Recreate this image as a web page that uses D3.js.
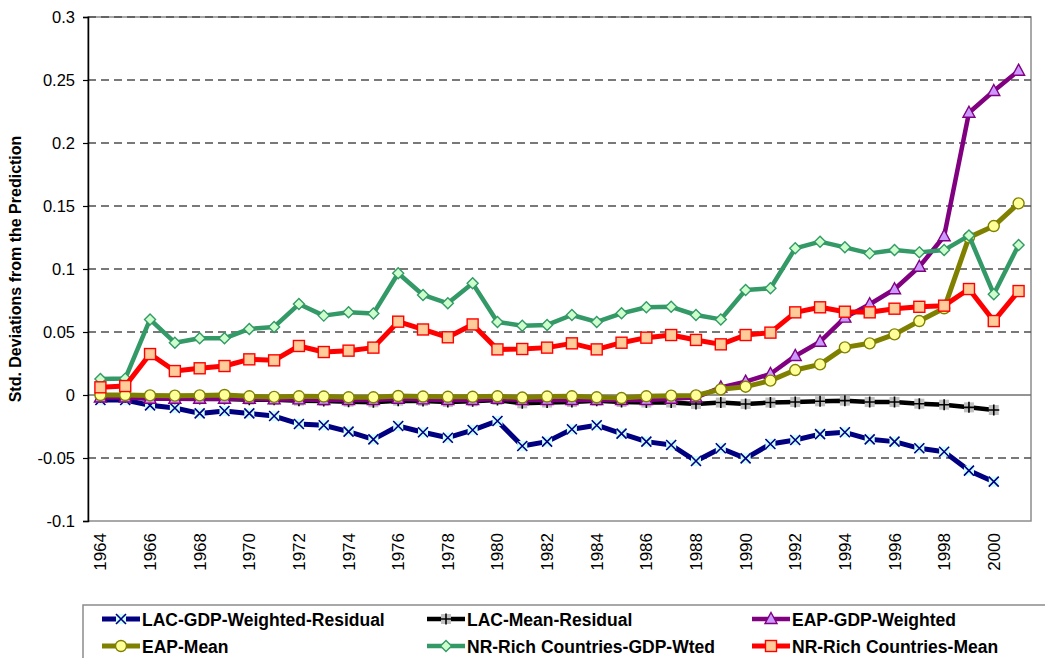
<!DOCTYPE html>
<html>
<head>
<meta charset="utf-8">
<script src="https://cdn.jsdelivr.net/npm/d3@7"></script>
<style>
  body { margin: 0; background: #fff; }
  svg { display: block; font-family: "Liberation Sans", Arial, sans-serif; }
</style>
</head>
<body>
<svg id="chart" width="1045" height="658"></svg>
<script>
// Years on the category axis
var years = d3.range(1964, 2002);
var yearLabels = d3.range(1964, 2001, 2);
var yTicks = [-0.1, -0.05, 0, 0.05, 0.1, 0.15, 0.2, 0.25, 0.3];

// Series values, 1964..2001
var lacGdpWeighted = [-0.004, -0.004, -0.0082, -0.0103, -0.0146, -0.0127, -0.0146, -0.0167, -0.023, -0.024, -0.0291, -0.0352,
  -0.0246, -0.0296, -0.0339, -0.0278, -0.0206, -0.0405, -0.037, -0.0272, -0.024, -0.0307, -0.037, -0.0397, -0.0524, -0.0423,
  -0.0503, -0.0389, -0.0357, -0.031, -0.0296, -0.0352, -0.037, -0.0423, -0.045, -0.060, -0.0688, null];
var lacMean = [-0.0018, -0.0018, -0.0026, -0.003, -0.0032, -0.0032, -0.0037, -0.0038, -0.0045, -0.0047, -0.0053, -0.0058,
  -0.0045, -0.0047, -0.0056, -0.005, -0.004, -0.0066, -0.006, -0.0056, -0.0045, -0.0056, -0.006, -0.006, -0.0071, -0.006,
  -0.0071, -0.006, -0.0056, -0.005, -0.0045, -0.0056, -0.0056, -0.0069, -0.0077, -0.0098, -0.0119, null];
var eapGdpWeighted = [-0.002, -0.002, -0.003, -0.003, -0.003, -0.003, -0.003, -0.0035, -0.0035, -0.004, -0.004, -0.004,
  -0.003, -0.0035, -0.004, -0.004, -0.003, -0.004, -0.004, -0.004, -0.004, -0.004, -0.004, -0.003, -0.002,
  0.006, 0.0106, 0.0167, 0.031, 0.0423, 0.0614, 0.072, 0.0839, 0.1018, 0.126, 0.224, 0.2413, 0.2574];
var eapMean = [0, 0, -0.0003, -0.0005, -0.0003, 0, -0.001, -0.0015, -0.001, -0.0012, -0.0018, -0.0018,
  -0.0008, -0.0012, -0.0014, -0.0014, -0.001, -0.002, -0.0012, -0.001, -0.0018, -0.0024, -0.001, -0.0005, -0.0003,
  0.0045, 0.0066, 0.0114, 0.0198, 0.0243, 0.0378, 0.041, 0.0481, 0.0587, 0.0688, 0.1251, 0.1341, 0.1521];
var nrGdpWted = [0.0127, 0.013, 0.060, 0.0415, 0.045, 0.045, 0.0524, 0.054, 0.0722, 0.063, 0.0656, 0.0646,
  0.0966, 0.0794, 0.0728, 0.0886, 0.058, 0.055, 0.0556, 0.0635, 0.058, 0.0648, 0.0696, 0.070, 0.0635, 0.060,
  0.0833, 0.0847, 0.1164, 0.1217, 0.1172, 0.1124, 0.115, 0.1132, 0.115, 0.1265, 0.080, 0.119];
var nrMean = [0.0061, 0.0071, 0.0325, 0.019, 0.0212, 0.023, 0.0283, 0.0275, 0.0389, 0.0341, 0.0352, 0.0376,
  0.0582, 0.052, 0.0458, 0.056, 0.0362, 0.0365, 0.0376, 0.041, 0.0362, 0.0415, 0.0455, 0.0476, 0.0437, 0.0402,
  0.0476, 0.0495, 0.0656, 0.0696, 0.0661, 0.0656, 0.0685, 0.070, 0.0709, 0.0841, 0.0587, 0.0825];

var seriesNames = ["LAC-GDP-Weighted-Residual", "LAC-Mean-Residual", "EAP-GDP-Weighted",
  "EAP-Mean", "NR-Rich Countries-GDP-Wted", "NR-Rich Countries-Mean"];
var seriesValues = [lacGdpWeighted, lacMean, eapGdpWeighted, eapMean, nrGdpWted, nrMean];

// look of each series
var styles = [
  { line: "#000080", marker: "cross", fill: "#ccffff", stroke: "#000080", width: 5 },
  { line: "#000000", marker: "plus", fill: "#c0c0c0", stroke: "#000000", width: 4.5 },
  { line: "#800080", marker: "triangle", fill: "#cc99ff", stroke: "#800080", width: 4.5 },
  { line: "#808000", marker: "circle", fill: "#ffff99", stroke: "#808000", width: 5 },
  { line: "#339966", marker: "diamond", fill: "#ccffcc", stroke: "#339966", width: 4.5 },
  { line: "#ff0000", marker: "square", fill: "#ffcc99", stroke: "#ff0000", width: 5 }
];

var svg = d3.select("#chart");
var plotLeft = 88, plotRight = 1031, plotTop = 17, plotBottom = 521;

var x = d3.scaleBand().domain(years).range([plotLeft, plotRight]).padding(0);
var y = d3.scaleLinear().domain([-0.1, 0.3]).range([plotBottom, plotTop]);
function cx(yr) { return x(yr) + x.bandwidth() / 2; }

// frame
svg.append("rect")
  .attr("x", plotLeft).attr("y", plotTop)
  .attr("width", plotRight - plotLeft).attr("height", plotBottom - plotTop)
  .attr("fill", "none").attr("stroke", "#8c8c8c").attr("stroke-width", 1.5);

// dashed gridlines
svg.append("g").selectAll("line")
  .data(yTicks.filter(function(t) { return t !== 0 && t !== -0.1; }))
  .enter().append("line")
  .attr("x1", plotLeft).attr("x2", plotRight)
  .attr("y1", function(d) { return y(d); }).attr("y2", function(d) { return y(d); })
  .attr("stroke", "#4d4d4d").attr("stroke-width", 1.3)
  .attr("stroke-dasharray", "8,5");

// zero line (category axis)
svg.append("line")
  .attr("x1", plotLeft).attr("x2", plotRight)
  .attr("y1", y(0)).attr("y2", y(0))
  .attr("stroke", "#707070").attr("stroke-width", 1.5);

// y axis
var yAxis = d3.axisLeft(y).tickValues(yTicks).tickSize(5).tickPadding(8)
  .tickFormat(function(d) { return String(+d.toFixed(2)); });
var gy = svg.append("g").attr("transform", "translate(" + plotLeft + ",0)").call(yAxis);
gy.select(".domain").attr("stroke", "#000").attr("stroke-width", 1.5);
gy.selectAll(".tick line").attr("stroke", "#000").attr("stroke-width", 1.2);
gy.selectAll("text").attr("font-size", "16.5px").attr("fill", "#000")
  .attr("font-family", "'Liberation Sans', Arial, sans-serif");

// year labels
svg.append("g").selectAll("text")
  .data(yearLabels)
  .enter().append("text")
  .attr("transform", function(d) { return "translate(" + (cx(d) + 6) + ",533) rotate(-90)"; })
  .attr("text-anchor", "end")
  .attr("font-size", "17px")
  .text(function(d) { return d; });

// y title
svg.append("text")
  .attr("transform", "translate(21," + ((plotTop + plotBottom) / 2) + ") rotate(-90)")
  .attr("text-anchor", "middle")
  .attr("font-size", "16px").attr("font-weight", "bold")
  .text("Std. Deviations from the Prediction");

// marker drawing
function drawMarker(g, s) {
  if (s.marker === "cross" || s.marker === "plus") {
    g.append("rect").attr("x", -5).attr("y", -5).attr("width", 10).attr("height", 10)
      .attr("fill", s.fill);
    var p = s.marker === "cross" ? "M-5,-5L5,5M5,-5L-5,5" : "M-5.5,0L5.5,0M0,-5.5L0,5.5";
    g.append("path").attr("d", p).attr("stroke", s.stroke).attr("stroke-width", 1.6).attr("fill", "none");
  } else if (s.marker === "circle") {
    g.append("circle").attr("r", 5.5).attr("fill", s.fill).attr("stroke", s.stroke).attr("stroke-width", 1.4);
  } else if (s.marker === "square") {
    g.append("rect").attr("x", -5.5).attr("y", -5.5).attr("width", 11).attr("height", 11)
      .attr("fill", s.fill).attr("stroke", s.stroke).attr("stroke-width", 1.4);
  } else if (s.marker === "diamond") {
    g.append("path").attr("d", "M0,-5.5L5.5,0L0,5.5L-5.5,0Z")
      .attr("fill", s.fill).attr("stroke", s.stroke).attr("stroke-width", 1.4);
  } else if (s.marker === "triangle") {
    g.append("path").attr("d", "M0,-6.5L6,4.5L-6,4.5Z")
      .attr("fill", s.fill).attr("stroke", s.stroke).attr("stroke-width", 1.4);
  }
}

// series lines and markers
var line = d3.line()
  .defined(function(d) { return d.v !== null; })
  .x(function(d) { return cx(d.year); })
  .y(function(d) { return y(d.v); });

seriesValues.forEach(function(vals, i) {
  var s = styles[i];
  var pts = years.map(function(yr, j) { return { year: yr, v: vals[j] }; });
  svg.append("path")
    .datum(pts)
    .attr("d", line)
    .attr("fill", "none")
    .attr("stroke", s.line)
    .attr("stroke-width", s.width)
    .attr("stroke-linejoin", "round");
  pts.filter(function(d) { return d.v !== null; }).forEach(function(d) {
    var g = svg.append("g").attr("transform", "translate(" + cx(d.year) + "," + y(d.v) + ")");
    drawMarker(g, s);
  });
});

// legend
svg.append("rect")
  .attr("x", 83).attr("y", 605).attr("width", 1000).attr("height", 80)
  .attr("fill", "none").attr("stroke", "#8c8c8c").attr("stroke-width", 1.5);

var legendCols = [102, 427, 752];
var legendRows = [619, 646];
seriesNames.forEach(function(name, i) {
  var s = styles[i];
  var lx = legendCols[i % 3], ly = legendRows[Math.floor(i / 3)];
  var g = svg.append("g").attr("transform", "translate(" + lx + "," + ly + ")");
  g.append("line").attr("x1", 0).attr("x2", 38).attr("y1", 0).attr("y2", 0)
    .attr("stroke", s.line).attr("stroke-width", s.width);
  drawMarker(g.append("g").attr("transform", "translate(19,0)"), s);
  g.append("text")
    .attr("x", 40).attr("y", 6.5)
    .attr("font-size", "17.5px").attr("font-weight", "bold")
    .text(name);
});
</script>
</body>
</html>
